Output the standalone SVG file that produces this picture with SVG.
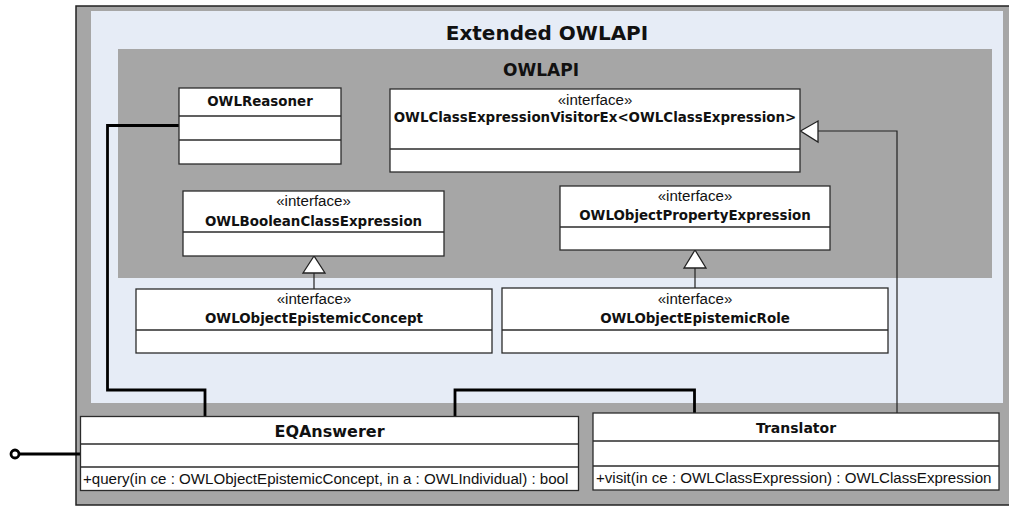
<svg xmlns="http://www.w3.org/2000/svg" width="1009" height="507" viewBox="0 0 1009 507">
<style>
.box{fill:#ffffff;stroke:#2b2b2b;stroke-width:1.3}
.div{stroke:#2b2b2b;stroke-width:1.3}
.nm{font-family:"DejaVu Sans",sans-serif;font-weight:bold;font-size:13.4px;fill:#111;text-anchor:middle}
.st{font-family:"Liberation Sans",Arial,sans-serif;font-size:15.1px;fill:#111;text-anchor:middle}
.op{font-family:"Liberation Sans",Arial,sans-serif;font-size:15.1px;fill:#111}
.thick{fill:none;stroke:#000;stroke-width:2.8}
.thin{fill:none;stroke:#222;stroke-width:1.2}
.tri{fill:#fff;stroke:#222;stroke-width:1.3}
</style>
<rect width="1009" height="507" fill="#ffffff"/>
<g id="extended-owlapi">
<rect x="76" y="6" width="940" height="499" fill="#a6a6a6" stroke="#222" stroke-width="1.5"/>
<rect x="91" y="11" width="912" height="392" fill="#e6ecf6"/>
<text x="547" y="40" class="nm" style="font-size:20px">Extended OWLAPI</text>
</g>
<g id="owlapi">
<rect x="118" y="49" width="874" height="229" fill="#a6a6a6"/>
<text x="541" y="76" class="nm" style="font-size:17px">OWLAPI</text>
</g>
<g id="connectors">
<path class="thick" d="M179,125.5 H107.5 V390 H205 V416"/>
<path class="thick" d="M455,416 V390 H694.5 V413"/>
<path class="thick" d="M19,454 H81"/>
<circle cx="15" cy="454" r="4" fill="#fff" stroke="#000" stroke-width="2.8"/>
<path class="thin" d="M897,413 V131 H818"/>
<polygon class="tri" points="800.5,131 818,121 818,142"/>
<path class="thin" d="M314,289 V273"/>
<polygon class="tri" points="314,256 303,273 325,273"/>
<path class="thin" d="M695,288 V268"/>
<polygon class="tri" points="695,250 684,268 706,268"/>
</g>
<g id="OWLReasoner">
<rect class="box" x="179" y="88" width="162" height="76"/>
<line class="div" x1="179" y1="116" x2="341" y2="116"/>
<line class="div" x1="179" y1="140" x2="341" y2="140"/>
<text x="260" y="106" class="nm">OWLReasoner</text>
</g>
<g id="OWLClassExpressionVisitorEx">
<rect class="box" x="390" y="89" width="410" height="83"/>
<line class="div" x1="390" y1="149" x2="800" y2="149"/>
<text x="595" y="105" class="st">«interface»</text>
<text x="595" y="122" class="nm">OWLClassExpressionVisitorEx&lt;OWLClassExpression&gt;</text>
</g>
<g id="OWLBooleanClassExpression">
<rect class="box" x="183" y="191" width="261" height="65"/>
<line class="div" x1="183" y1="232" x2="444" y2="232"/>
<text x="313.5" y="206" class="st">«interface»</text>
<text x="313.5" y="226" class="nm">OWLBooleanClassExpression</text>
</g>
<g id="OWLObjectPropertyExpression">
<rect class="box" x="560" y="186" width="270" height="64"/>
<line class="div" x1="560" y1="227" x2="830" y2="227"/>
<text x="695" y="201" class="st">«interface»</text>
<text x="695" y="220" class="nm">OWLObjectPropertyExpression</text>
</g>
<g id="OWLObjectEpistemicConcept">
<rect class="box" x="136" y="289" width="356" height="64"/>
<line class="div" x1="136" y1="330" x2="492" y2="330"/>
<text x="314" y="304" class="st">«interface»</text>
<text x="314" y="323" class="nm">OWLObjectEpistemicConcept</text>
</g>
<g id="OWLObjectEpistemicRole">
<rect class="box" x="502" y="288" width="386" height="65"/>
<line class="div" x1="502" y1="330" x2="888" y2="330"/>
<text x="695" y="304" class="st">«interface»</text>
<text x="695" y="323" class="nm">OWLObjectEpistemicRole</text>
</g>
<g id="EQAnswerer">
<rect class="box" x="80.5" y="416.5" width="498" height="74"/>
<line class="div" x1="80.5" y1="444" x2="578.5" y2="444"/>
<line class="div" x1="80.5" y1="467" x2="578.5" y2="467"/>
<text x="329.5" y="437" class="nm" style="font-size:16px">EQAnswerer</text>
<text x="83" y="484" class="op">+query(in ce : OWLObjectEpistemicConcept, in a : OWLIndividual) : bool</text>
</g>
<g id="Translator">
<rect class="box" x="593" y="413" width="406" height="77"/>
<line class="div" x1="593" y1="441" x2="999" y2="441"/>
<line class="div" x1="593" y1="466" x2="999" y2="466"/>
<text x="796" y="433" class="nm" style="font-size:14px">Translator</text>
<text x="596" y="483" class="op">+visit(in ce : OWLClassExpression) : OWLClassExpression</text>
</g>
</svg>
